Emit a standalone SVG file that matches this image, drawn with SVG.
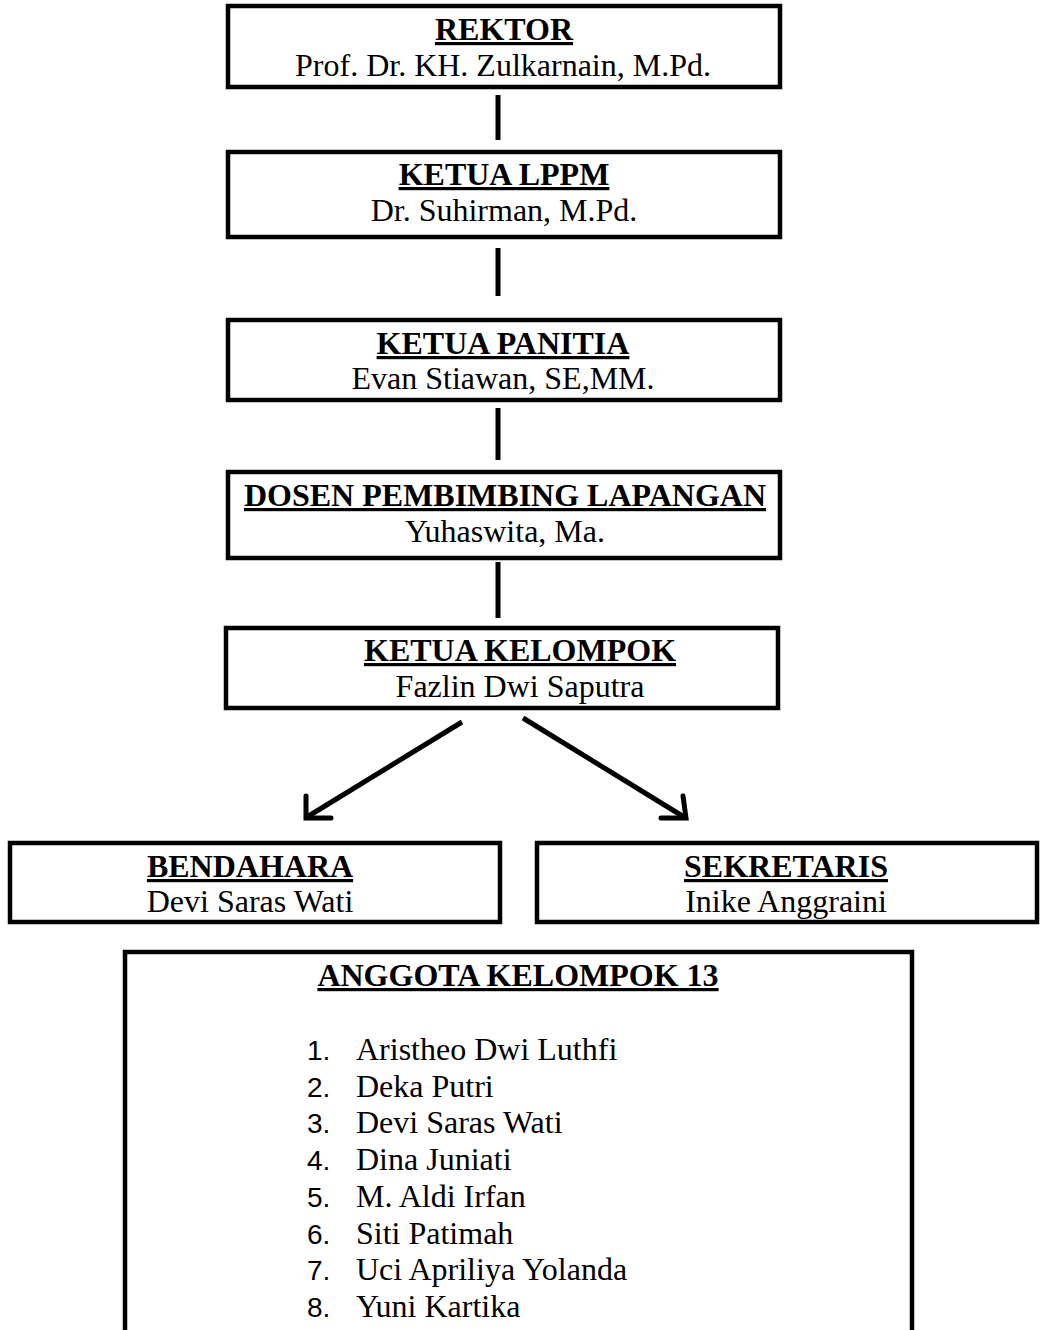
<svg xmlns="http://www.w3.org/2000/svg" width="1043" height="1330" viewBox="0 0 1043 1330">
<style>
.box{fill:#fff;stroke:#000;stroke-width:4.5}
.t{font-family:"Liberation Serif","Times New Roman",serif;font-size:32px;font-weight:bold;text-decoration:underline;text-anchor:middle;fill:#000}
.s{font-family:"Liberation Serif","Times New Roman",serif;font-size:32px;text-anchor:middle;fill:#000}
.n{font-family:"Liberation Sans",Arial,sans-serif;font-size:28px;fill:#000}
.m{font-family:"Liberation Serif","Times New Roman",serif;font-size:32px;fill:#000}
.c{stroke:#000;stroke-width:5;fill:none}
.ah{stroke:#000;stroke-width:5;fill:none;stroke-linejoin:miter;stroke-linecap:round}
</style>
<rect width="1043" height="1330" fill="#fff"/>
<g id="connectors">
<line class="c" x1="498" y1="95" x2="498" y2="140"/>
<line class="c" x1="498" y1="248" x2="498" y2="296"/>
<line class="c" x1="498" y1="408" x2="498" y2="460"/>
<line class="c" x1="498" y1="562" x2="498" y2="618"/>
<line class="c" x1="462" y1="722" x2="307" y2="817"/>
<polyline class="ah" points="306,796 306,818 331,818"/>
<line class="c" x1="523" y1="718" x2="684" y2="817"/>
<polyline class="ah" points="661,818 686,818 683,796"/>
</g>
<g id="rektor">
<rect class="box" x="228" y="6" width="552" height="81"/>
<text class="t" x="504" y="40">REKTOR</text>
<text class="s" x="503" y="76">Prof. Dr. KH. Zulkarnain, M.Pd.</text>
</g>
<g id="ketua-lppm">
<rect class="box" x="228" y="152" width="552" height="85"/>
<text class="t" x="504" y="185">KETUA LPPM</text>
<text class="s" x="504" y="221">Dr. Suhirman, M.Pd.</text>
</g>
<g id="ketua-panitia">
<rect class="box" x="228" y="320" width="552" height="80"/>
<text class="t" x="503" y="354">KETUA PANITIA</text>
<text class="s" x="503" y="389">Evan Stiawan, SE,MM.</text>
</g>
<g id="dpl">
<rect class="box" x="228" y="472" width="552" height="86"/>
<text class="t" x="505" y="506">DOSEN PEMBIMBING LAPANGAN</text>
<text class="s" x="505" y="542">Yuhaswita, Ma.</text>
</g>
<g id="ketua-kelompok">
<rect class="box" x="226" y="628" width="552" height="80"/>
<text class="t" x="520" y="661">KETUA KELOMPOK</text>
<text class="s" x="520" y="697">Fazlin Dwi Saputra</text>
</g>
<g id="bendahara">
<rect class="box" x="10" y="843" width="490" height="79"/>
<text class="t" x="250" y="877">BENDAHARA</text>
<text class="s" x="250" y="912">Devi Saras Wati</text>
</g>
<g id="sekretaris">
<rect class="box" x="537" y="843" width="500" height="79"/>
<text class="t" x="786" y="877">SEKRETARIS</text>
<text class="s" x="786" y="912">Inike Anggraini</text>
</g>
<g id="anggota">
<rect class="box" x="125" y="952" width="787" height="420"/>
<text class="t" x="518" y="986">ANGGOTA KELOMPOK 13</text>
<text class="n" x="307" y="1060">1.</text><text class="m" x="356" y="1060">Aristheo Dwi Luthfi</text>
<text class="n" x="307" y="1097">2.</text><text class="m" x="356" y="1097">Deka Putri</text>
<text class="n" x="307" y="1133">3.</text><text class="m" x="356" y="1133">Devi Saras Wati</text>
<text class="n" x="307" y="1170">4.</text><text class="m" x="356" y="1170">Dina Juniati</text>
<text class="n" x="307" y="1207">5.</text><text class="m" x="356" y="1207">M. Aldi Irfan</text>
<text class="n" x="307" y="1244">6.</text><text class="m" x="356" y="1244">Siti Patimah</text>
<text class="n" x="307" y="1280">7.</text><text class="m" x="356" y="1280">Uci Apriliya Yolanda</text>
<text class="n" x="307" y="1317">8.</text><text class="m" x="356" y="1317">Yuni Kartika</text>
</g>
</svg>
